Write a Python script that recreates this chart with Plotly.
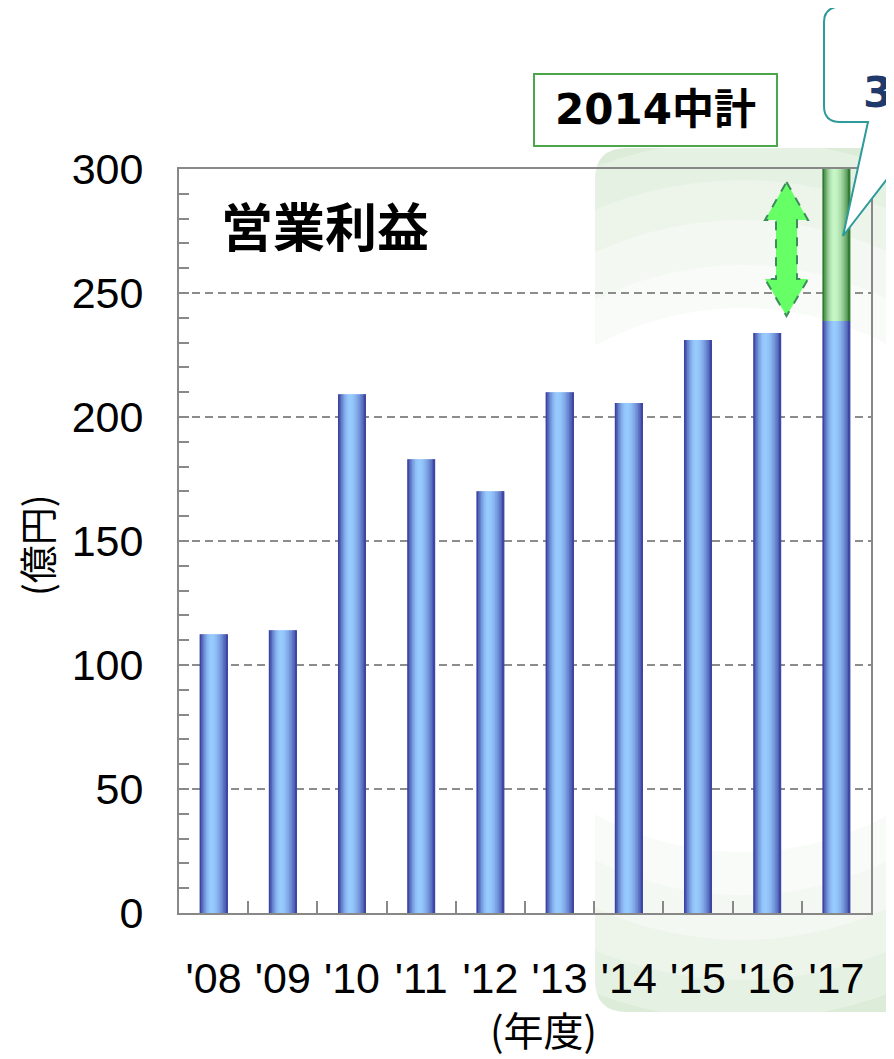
import plotly.graph_objects as go

# ---- data ----
years = ["'08", "'09", "'10", "'11", "'12", "'13", "'14", "'15", "'16", "'17"]
operating_profit = [112.4, 114.0, 209.2, 183.0, 170.1, 210.0, 205.6, 231.0, 233.9, 238.7]
target_extra = [None] * 9 + [61.3]   # 2017 target gap (green segment)
y_ticks = [0, 50, 100, 150, 200, 250, 300]

# page body has an 8px margin, so the figure is drawn 8px in from the top-left
OFF = 8
W, H = 894 - OFF, 1059 - OFF
L, T = 179 - OFF, 169 - OFF
PW, PH = 692, 744
R, B = W - L - PW, H - T - PH


def px(x):   # reference page pixel -> paper fraction
    return (x - OFF - L) / PW


def py(y):
    return (H - B - (y - OFF)) / PH


def path(cmds):
    out = []
    for c in cmds:
        if isinstance(c, str):
            out.append(c)
        else:
            out.append(f"{px(c[0]):.5f},{py(c[1]):.5f}")
    return " ".join(out)


def rrect(x0, y0, x1, y1, r):
    return path(["M", (x0 + r, y0), "L", (x1 - r, y0), "Q", (x1, y0), (x1, y0 + r),
                 "L", (x1, y1 - r), "Q", (x1, y1), (x1 - r, y1),
                 "L", (x0 + r, y1), "Q", (x0, y1), (x0, y1 - r),
                 "L", (x0, y0 + r), "Q", (x0, y0), (x0 + r, y0), "Z"])


fig = go.Figure()

# striped bars to emulate a cylinder-like gradient
N = 18
BW = 0.405
sw = BW / N


def shade(t, dark, light):
    c = 0.42
    d = t - c
    w = 0.42 if d < 0 else 0.60
    l = max(0.0, 1 - (abs(d) / w) ** 1.8)
    return "rgb(%d,%d,%d)" % tuple(int(dark[k] + (light[k] - dark[k]) * l) for k in range(3))


blue_dark, blue_light = (48, 50, 150), (152, 204, 255)
green_dark, green_light = (28, 105, 28), (200, 246, 200)

for i in range(N):
    t = (i + 0.5) / N
    off = -BW / 2 + i * sw
    wid = sw * 1.6 if i < N - 1 else sw
    fig.add_trace(go.Bar(x=years, y=operating_profit, offset=off, width=wid,
                         marker=dict(color=shade(t, blue_dark, blue_light), line=dict(width=0)),
                         showlegend=False, hoverinfo="skip"))
    fig.add_trace(go.Bar(x=years, y=target_extra, base=operating_profit, offset=off, width=wid,
                         marker=dict(color=shade(t, green_dark, green_light), line=dict(width=0)),
                         showlegend=False, hoverinfo="skip"))

shapes = []
# green highlighted region ('14-'17 mid-term plan)
shapes.append(dict(type="path", xref="paper", yref="paper", layer="below",
                   path=rrect(595, 148, 925, 1012, 32), fillcolor="rgb(210,231,206)",
                   line=dict(width=0)))
cx, cy = 742, 580
for (ax, ay, op) in [(470, 480, 0.22), (430, 440, 0.25), (390, 400, 0.3),
                     (355, 360, 0.35), (320, 315, 0.45), (290, 272, 0.85)]:
    shapes.append(dict(type="circle", xref="paper", yref="paper", layer="below",
                       x0=px(cx - ax), x1=px(cx + ax), y0=py(cy + ay), y1=py(cy - ay),
                       fillcolor="white", opacity=op, line=dict(width=0)))

# "2014中計" box
shapes.append(dict(type="rect", xref="paper", yref="paper", layer="above",
                   x0=px(534), x1=px(777), y0=py(146), y1=py(74),
                   fillcolor="white", line=dict(color="#4ca64c", width=2)))

# double-headed arrow
shapes.append(dict(type="path", xref="paper", yref="paper", layer="above",
                   path=path(["M", (786.5, 182), "L", (808, 220), "L", (797, 220), "L", (797, 279),
                              "L", (808, 279), "L", (786.5, 316), "L", (765, 279), "L", (776, 279),
                              "L", (776, 220), "L", (765, 220), "Z"]),
                   fillcolor="#66ff66", line=dict(color="#3c8c5c", width=2, dash="dash")))

# callout bubble
shapes.append(dict(type="path", xref="paper", yref="paper", layer="above",
                   path=path(["M", (844, 6), "L", (1000, 6), "L", (1000, 122), "L", (931, 122),
                              "L", (843, 236), "L", (868, 122), "L", (840, 122),
                              "Q", (824, 122), (824, 106), "L", (824, 22), "Q", (824, 6), (844, 6), "Z"]),
                   fillcolor="white", line=dict(color="#2f9a9a", width=2)))

cjk = "Noto Sans CJK JP"
annotations = [
    dict(x=px(325), y=py(224), text="<b>営業利益</b>", font=dict(family=cjk, size=52, color="black")),
    dict(x=px(35), y=py(545), text="(億円)", textangle=-90, font=dict(family=cjk, size=38, color="black")),
    dict(x=px(543), y=py(1029), text="(年度)", font=dict(family=cjk, size=40, color="black")),
    dict(x=px(655), y=py(110), text="<b>2014中計</b>",
         font=dict(family="DejaVu Sans, " + cjk, size=42, color="black")),
    dict(x=px(861), y=py(92), xanchor="left", text="<b>3</b>",
         font=dict(family="DejaVu Sans", size=43, color="#1f3a6a")),
]
for a in annotations:
    a.update(xref="paper", yref="paper", showarrow=False)
    a.setdefault("xanchor", "center")
    a.setdefault("yanchor", "middle")

fig.update_layout(
    width=W, height=H,
    margin=dict(l=L, r=R, t=T, b=B, pad=0),
    barmode="overlay",
    paper_bgcolor="white",
    plot_bgcolor="rgba(0,0,0,0)",
    shapes=shapes,
    annotations=annotations,
    showlegend=False,
    font=dict(family="Liberation Sans", color="black"),
)
fig.update_xaxes(type="category", range=[-0.5, 9.5], tickson="boundaries",
                 ticks="inside", ticklen=12, tickwidth=2, tickcolor="#888",
                 showline=True, linecolor="#888", linewidth=2, mirror=True,
                 showgrid=False, tickfont=dict(family="Liberation Sans", size=43, color="black"),
                 ticklabelstandoff=26)
fig.update_yaxes(range=[0, 300], tickvals=y_ticks,
                 ticks="inside", ticklen=10, tickwidth=2, tickcolor="#888",
                 minor=dict(dtick=10, ticks="inside", ticklen=10, tickwidth=2, tickcolor="#888", showgrid=False),
                 showline=True, linecolor="#888", linewidth=2, mirror=True,
                 showgrid=True, gridcolor="#8c8c8c", gridwidth=2, griddash="8px,5px",
                 zeroline=False,
                 tickfont=dict(family="Liberation Sans", size=43, color="black"),
                 ticklabelstandoff=25)

fig.write_html("out.html")
